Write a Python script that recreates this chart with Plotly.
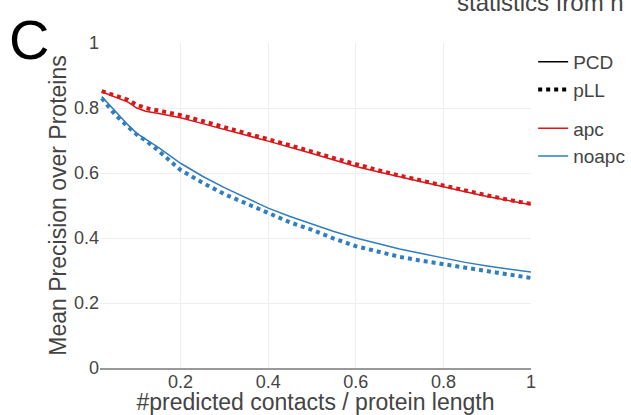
import plotly.graph_objects as go

x = [0.02, 0.05, 0.08, 0.1, 0.12, 0.15, 0.2, 0.25, 0.3, 0.35, 0.4, 0.45, 0.5,
     0.55, 0.6, 0.65, 0.7, 0.75, 0.8, 0.85, 0.9, 0.95, 1.0]

apc_pcd = [0.850, 0.835, 0.818, 0.800, 0.790, 0.783, 0.770, 0.752, 0.733, 0.716, 0.698,
           0.680, 0.660, 0.640, 0.620, 0.604, 0.588, 0.572, 0.556, 0.542, 0.528, 0.514, 0.502]
apc_pll = [0.852, 0.840, 0.825, 0.810, 0.800, 0.792, 0.778, 0.760, 0.740, 0.722, 0.704,
           0.686, 0.666, 0.646, 0.626, 0.609, 0.592, 0.576, 0.560, 0.545, 0.531, 0.517, 0.505]
noapc_pcd = [0.835, 0.790, 0.748, 0.722, 0.705, 0.678, 0.630, 0.590, 0.555, 0.524, 0.492,
             0.466, 0.443, 0.420, 0.400, 0.382, 0.366, 0.352, 0.338, 0.325, 0.314, 0.304, 0.295]
noapc_pll = [0.830, 0.780, 0.742, 0.718, 0.700, 0.668, 0.609, 0.570, 0.535, 0.505, 0.475,
             0.448, 0.425, 0.398, 0.375, 0.357, 0.342, 0.330, 0.320, 0.308, 0.298, 0.288, 0.277]

x_ticks = [0.2, 0.4, 0.6, 0.8, 1]
x_ticktext = ["0.2", "0.4", "0.6", "0.8", "1"]
y_ticks = [0, 0.2, 0.4, 0.6, 0.8, 1]
y_ticktext = ["0", "0.2", "0.4", "0.6", "0.8", "1"]

RED = "rgb(215,25,28)"
BLUE = "rgb(50,125,190)"
FONT = "Liberation Sans, Arial, sans-serif"

fig = go.Figure()
for y, c, d in [(apc_pcd, RED, "solid"), (apc_pll, RED, "dot"),
                (noapc_pcd, BLUE, "solid"), (noapc_pll, BLUE, "dot")]:
    fig.add_trace(go.Scatter(x=x, y=y, mode="lines", showlegend=False,
                             line=dict(color=c, width=1.5 if d == "solid" else 4, dash=d)))

# legend entries
legend_items = [("PCD", "black", "solid", 1.5, "g1"), ("pLL", "black", "dot", 4, "g1"),
                ("apc", RED, "solid", 1.5, "g2"), ("noapc", BLUE, "solid", 1.5, "g2")]
for name, c, d, w, g in legend_items:
    fig.add_trace(go.Scatter(x=[None], y=[None], mode="lines", name=name, legendgroup=g,
                             line=dict(color=c, width=w, dash=d)))

fig.update_layout(
    width=631, height=415,
    margin=dict(l=100, r=100, t=43, b=47, autoexpand=False),
    paper_bgcolor="white", plot_bgcolor="white",
    font=dict(family=FONT, size=17, color="#444"),
    legend=dict(x=1.005, y=1.0, xanchor="left", yanchor="top", tracegroupgap=11,
                font=dict(size=19, color="#444"), traceorder="grouped"),
    xaxis=dict(range=[0.016, 1.0], tickvals=x_ticks, ticktext=x_ticktext,
               showgrid=True, gridcolor="#eeeeee", zeroline=False, automargin=False,
               showline=True, linecolor="#999", linewidth=1.5, ticklabelstandoff=-3,
               title=dict(text="#predicted contacts / protein length", font=dict(size=23), standoff=5),
               tickfont=dict(size=18)),
    yaxis=dict(range=[0, 1], tickvals=y_ticks, ticktext=y_ticktext,
               showgrid=True, gridcolor="#eeeeee", zeroline=False, automargin=False,
               title=dict(text="Mean Precision over Proteins", font=dict(size=23), standoff=0),
               tickfont=dict(size=18)),
    annotations=[
        dict(text="C", xref="paper", yref="paper", x=-0.165, y=1.01, xanchor="center", yanchor="middle",
             showarrow=False, font=dict(size=56, color="black", family=FONT)),
        dict(text="statistics from n", xref="paper", yref="paper", x=0.824, y=1.125,
             xanchor="left", yanchor="middle", showarrow=False,
             font=dict(size=24, color="#444", family=FONT)),
    ],
)

fig.write_html("out.html", config={"displayModeBar": False},
               post_script="document.body.style.margin='0';")
